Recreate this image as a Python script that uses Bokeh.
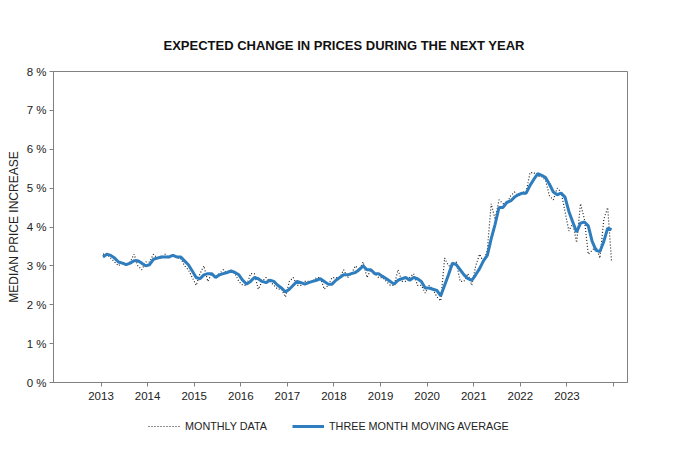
from bokeh.plotting import figure
from bokeh.layouts import column
from bokeh.models import FixedTicker, Legend, LegendItem
from bokeh.embed import file_html
from bokeh.resources import INLINE

# ---- data ----
years = list(range(2013, 2024))

monthly = [
    3.3, 3.3, 3.2, 3.1, 3.0, 3.1, 3.0, 3.1, 3.3, 3.0, 2.9, 3.1,   # 2013
    3.1, 3.3, 3.2, 3.2, 3.3, 3.2, 3.3, 3.2, 3.2, 3.0, 2.9, 2.7,   # 2014
    2.5, 2.8, 3.0, 2.6, 2.8, 2.7, 2.8, 2.9, 2.8, 2.9, 2.8, 2.6,   # 2015
    2.5, 2.5, 2.8, 2.8, 2.4, 2.6, 2.7, 2.6, 2.5, 2.4, 2.4, 2.2,   # 2016
    2.6, 2.7, 2.5, 2.5, 2.6, 2.6, 2.6, 2.7, 2.7, 2.4, 2.5, 2.7,   # 2017
    2.7, 2.7, 2.9, 2.7, 2.8, 3.0, 2.9, 3.1, 2.7, 2.9, 2.8, 2.7,   # 2018
    2.7, 2.6, 2.5, 2.5, 2.9, 2.6, 2.6, 2.7, 2.8, 2.5, 2.5, 2.3,   # 2019
    2.5, 2.4, 2.2, 2.1, 3.2, 3.0, 3.0, 3.1, 2.6, 2.6, 2.8, 2.5,   # 2020
    3.0, 3.3, 3.1, 3.4, 4.6, 4.2, 4.7, 4.6, 4.6, 4.8, 4.9, 4.8,   # 2021
    4.9, 4.9, 5.4, 5.4, 5.3, 5.3, 5.2, 4.8, 4.7, 5.0, 4.9, 4.4,   # 2022
    3.9, 4.1, 3.6, 4.6, 4.2, 3.3, 3.4, 3.5, 3.2, 4.2, 4.5, 3.1,   # 2023
]

moving_avg = [
    3.23, 3.30, 3.27, 3.20, 3.10, 3.07, 3.03, 3.07, 3.13, 3.13, 3.07, 3.00,  # 2013
    3.03, 3.17, 3.20, 3.23, 3.23, 3.23, 3.27, 3.23, 3.23, 3.13, 3.03, 2.87,  # 2014
    2.70, 2.67, 2.77, 2.80, 2.80, 2.70, 2.77, 2.80, 2.83, 2.87, 2.83, 2.77,  # 2015
    2.63, 2.53, 2.60, 2.70, 2.67, 2.60, 2.57, 2.63, 2.60, 2.50, 2.43, 2.33,  # 2016
    2.40, 2.50, 2.60, 2.57, 2.53, 2.57, 2.60, 2.63, 2.67, 2.60, 2.53, 2.53,  # 2017
    2.63, 2.70, 2.77, 2.77, 2.80, 2.83, 2.90, 3.00, 2.90, 2.90, 2.80, 2.80,  # 2018
    2.73, 2.67, 2.60, 2.53, 2.63, 2.67, 2.70, 2.63, 2.70, 2.67, 2.60, 2.43,  # 2019
    2.43, 2.40, 2.37, 2.23, 2.50, 2.77, 3.07, 3.03, 2.90, 2.77, 2.67, 2.63,  # 2020
    2.77, 2.93, 3.13, 3.27, 3.70, 4.07, 4.50, 4.50, 4.63, 4.67, 4.77, 4.83,  # 2021
    4.87, 4.87, 5.07, 5.23, 5.37, 5.33, 5.27, 5.10, 4.90, 4.83, 4.87, 4.77,  # 2022
    4.40, 4.13, 3.87, 4.10, 4.13, 4.03, 3.63, 3.40, 3.37, 3.63, 3.97, 3.93,  # 2023
]

y_ticks = [0, 1, 2, 3, 4, 5, 6, 7, 8]
y_tick_labels = ["0 %", "1 %", "2 %", "3 %", "4 %", "5 %", "6 %", "7 %", "8 %"]
x_ticks = list(range(2013, 2025))
x_tick_labels = ["2013", "2014", "2015", "2016", "2017", "2018", "2019",
                 "2020", "2021", "2022", "2023", ""]

title_text = "EXPECTED CHANGE IN PRICES DURING THE NEXT YEAR"
y_title = "MEDIAN PRICE INCREASE"
series_names = ["MONTHLY DATA", "THREE MONTH MOVING AVERAGE"]

# month positions (mid-month)
x = [yr + (m + 0.5) / 12 for yr in years for m in range(12)]

FONT = "Liberation Sans"
GRAY = "#808080"
TXT = "#222222"
BLUE = "#2E7DBE"
DOT = "#222222"

p = figure(width=670, height=410, output_backend="svg", toolbar_location=None,
           x_range=(2011.98, 2024.30), y_range=(0, 8),
           min_border_left=53, min_border_right=43,
           min_border_top=71, min_border_bottom=28,
           background_fill_color="white", border_fill_color="white")

p.title.text = title_text
p.title.align = "left"
p.title.offset = 110
p.title.text_font = FONT
p.title.text_font_size = "13px"
p.title.text_font_style = "bold"
p.title.text_color = "#111111"
p.title.standoff = 38

p.xgrid.visible = False
p.ygrid.visible = False
p.outline_line_color = GRAY
p.outline_line_width = 1

for ax in (p.xaxis[0], p.yaxis[0]):
    ax.axis_line_color = GRAY
    ax.major_tick_line_color = GRAY
    ax.major_tick_out = 4
    ax.major_tick_in = 0
    ax.minor_tick_line_color = None
    ax.major_label_text_font = FONT
    ax.major_label_text_font_size = "11.5px"
    ax.major_label_text_color = TXT

p.xaxis.ticker = FixedTicker(ticks=x_ticks)
p.xaxis.major_label_overrides = {t: l for t, l in zip(x_ticks, x_tick_labels)}
p.xaxis.major_label_standoff = 5

p.yaxis.ticker = FixedTicker(ticks=y_ticks)
p.yaxis.major_label_overrides = {t: l for t, l in zip(y_ticks, y_tick_labels)}
p.yaxis.major_label_standoff = 3
p.yaxis.axis_label = y_title
p.yaxis.axis_label_text_font = FONT
p.yaxis.axis_label_text_font_size = "12px"
p.yaxis.axis_label_text_font_style = "normal"
p.yaxis.axis_label_text_color = TXT
p.yaxis.axis_label_standoff = 3

p.line(x, monthly, line_color=DOT, line_width=1.2, line_dash="1 2")
p.line(x, moving_avg, line_color=BLUE, line_width=3)

# legend strip below the chart (hidden copies of the two series supply the keys)
lg = figure(width=670, height=40, output_backend="svg", toolbar_location=None,
            x_range=(0, 1), y_range=(0, 1),
            x_axis_location=None, y_axis_location=None,
            min_border_left=0, min_border_right=0, min_border_top=0, min_border_bottom=0,
            background_fill_color="white", border_fill_color="white")
lg.xgrid.visible = False
lg.ygrid.visible = False
lg.outline_line_color = None
k1 = lg.line(x, monthly, line_color=DOT, line_width=1.2, line_dash="1 2", visible=False)
k2 = lg.line(x, moving_avg, line_color=BLUE, line_width=3, visible=False)

legend = Legend(items=[LegendItem(label=series_names[0], renderers=[k1]),
                       LegendItem(label=series_names[1], renderers=[k2])],
                orientation="horizontal", location=(95, 14),
                border_line_color=None, background_fill_alpha=0,
                inactive_fill_alpha=0,
                label_text_font=FONT, label_text_font_size="10.8px",
                label_text_color=TXT, glyph_width=32, label_standoff=5,
                spacing=25, padding=2, margin=0)
lg.add_layout(legend)

page = column(p, lg, spacing=0)
open("out.html", "w").write(file_html(page, INLINE))
